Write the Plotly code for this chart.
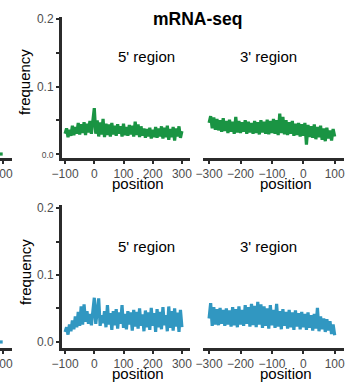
import plotly.graph_objects as go

W, H = 361, 385

pos5 = list(range(-100, 301, 5))
pos3 = list(range(-300, 101, 5))

green5 = [0.030, 0.038, 0.025, 0.036, 0.027, 0.042, 0.028, 0.040, 0.030, 0.046,
          0.029, 0.044, 0.031, 0.047, 0.028, 0.045, 0.032, 0.049, 0.030, 0.052,
          0.068, 0.030, 0.050, 0.026, 0.047, 0.029, 0.052, 0.025, 0.045, 0.028,
          0.044, 0.026, 0.046, 0.029, 0.042, 0.027, 0.044, 0.030, 0.041, 0.026,
          0.045, 0.028, 0.040, 0.027, 0.043, 0.029, 0.042, 0.026, 0.048, 0.028,
          0.044, 0.025, 0.041, 0.027, 0.038, 0.024, 0.037, 0.026, 0.039, 0.023,
          0.036, 0.025, 0.040, 0.024, 0.038, 0.026, 0.041, 0.023, 0.039, 0.025,
          0.042, 0.021, 0.037, 0.025, 0.040, 0.020, 0.038, 0.026, 0.041, 0.024,
          0.034]

green3 = [0.046, 0.056, 0.038, 0.054, 0.036, 0.052, 0.035, 0.050, 0.033, 0.053,
          0.034, 0.049, 0.031, 0.051, 0.033, 0.048, 0.030, 0.055, 0.032, 0.049,
          0.031, 0.047, 0.033, 0.050, 0.030, 0.048, 0.032, 0.046, 0.030, 0.049,
          0.031, 0.047, 0.029, 0.050, 0.032, 0.048, 0.030, 0.051, 0.029, 0.049,
          0.031, 0.052, 0.030, 0.050, 0.028, 0.060, 0.031, 0.055, 0.029, 0.050,
          0.028, 0.047, 0.030, 0.049, 0.027, 0.045, 0.028, 0.046, 0.026, 0.044,
          0.027, 0.046, 0.014, 0.043, 0.025, 0.041, 0.024, 0.044, 0.022, 0.040,
          0.025, 0.042, 0.021, 0.038, 0.019, 0.039, 0.023, 0.035, 0.020, 0.037,
          0.026]

teal5 = [0.015, 0.022, 0.011, 0.026, 0.016, 0.032, 0.019, 0.038, 0.022, 0.045,
         0.024, 0.053, 0.026, 0.056, 0.030, 0.046, 0.027, 0.042, 0.025, 0.048,
         0.066, 0.027, 0.052, 0.065, 0.024, 0.040, 0.028, 0.046, 0.022, 0.055,
         0.026, 0.043, 0.018, 0.046, 0.025, 0.049, 0.020, 0.044, 0.027, 0.055,
         0.021, 0.042, 0.019, 0.046, 0.026, 0.044, 0.017, 0.048, 0.023, 0.045,
         0.020, 0.050, 0.024, 0.041, 0.016, 0.047, 0.022, 0.044, 0.018, 0.051,
         0.024, 0.043, 0.015, 0.049, 0.022, 0.045, 0.019, 0.052, 0.025, 0.040,
         0.016, 0.053, 0.021, 0.046, 0.017, 0.050, 0.023, 0.044, 0.015, 0.048,
         0.022]

teal3 = [0.035, 0.058, 0.024, 0.052, 0.026, 0.049, 0.025, 0.051, 0.027, 0.048,
         0.024, 0.050, 0.026, 0.047, 0.023, 0.052, 0.025, 0.049, 0.022, 0.053,
         0.026, 0.048, 0.024, 0.055, 0.027, 0.052, 0.023, 0.057, 0.025, 0.054,
         0.022, 0.060, 0.026, 0.056, 0.021, 0.053, 0.024, 0.050, 0.020, 0.055,
         0.025, 0.048, 0.021, 0.057, 0.023, 0.046, 0.019, 0.049, 0.024, 0.045,
         0.020, 0.048, 0.022, 0.044, 0.018, 0.047, 0.023, 0.043, 0.019, 0.045,
         0.022, 0.042, 0.018, 0.044, 0.021, 0.040, 0.017, 0.042, 0.020, 0.051,
         0.016, 0.038, 0.019, 0.035, 0.015, 0.034, 0.017, 0.031, 0.012, 0.026,
         0.010]

# tail of the neighbouring (cropped) panel on the left
edge_x = [91, 100]
edge_green = [0.0, 0.0]
edge_teal = [0.0, 0.0]

row_titles = ["mRNA-seq"]
region_labels = ["5' region", "3' region"]
x_ticks5 = [-100, 0, 100, 200, 300]
x_ticks3 = [-300, -200, -100, 0, 100]
y_ticks = [0.0, 0.1, 0.2]

GREEN = "#1a9443"
TEAL = "#3197c1"
AX = "#2b2b2b"
TICKC = "#4d4d4d"
FONT = "Liberation Sans, Arial, sans-serif"


def px(x):
    return x / W


def py(y):
    return 1 - y / H


fig = go.Figure()

xdom5 = [px(62), px(190)]
xdom3 = [px(203), px(344)]
xdomE = [0, px(12)]
ydomT = [py(158), py(17)]
ydomB = [py(348), py(205)]

xr5 = [-110.6, 327.7]
xr3 = [-319.4, 129.6]
xrE = [91.4, 129.6]
yrT = [-0.0059, 0.2030]
yrB = [-0.0090, 0.2045]

LW = 3.2

traces = [
    (pos5, green5, GREEN, "x", "y"),
    (pos3, green3, GREEN, "x2", "y2"),
    (pos5, teal5, TEAL, "x3", "y3"),
    (pos3, teal3, TEAL, "x4", "y4"),
    (edge_x, edge_green, GREEN, "x5", "y5"),
    (edge_x, edge_teal, TEAL, "x6", "y6"),
]
for xs, ys, c, xa, ya in traces:
    fig.add_trace(go.Scatter(x=xs, y=ys, mode="lines", xaxis=xa, yaxis=ya,
                             line=dict(color=c, width=LW), showlegend=False,
                             hoverinfo="skip"))

xcommon = dict(showline=True, linewidth=3, linecolor=AX, ticks="outside",
               ticklen=3, tickwidth=2, tickcolor=AX, showgrid=False,
               zeroline=False, tickfont=dict(size=12, color=TICKC, family=FONT),
               automargin=False, fixedrange=True, ticklabeloverflow="allow")
ycommon = dict(showgrid=False, zeroline=False, automargin=False, fixedrange=True)

ytext_top = ['<span style="font-size:8.5px">0.0</span>', "0.1", "0.2"]
ytext_bot = ["0.0", "0.1", "0.2"]


def ymain(dom, rng, texts, anchor):
    return dict(domain=dom, range=rng, anchor=anchor, showline=True,
                linewidth=3, linecolor=AX, ticks="outside", ticklen=3,
                tickwidth=2, tickcolor=AX, tickvals=y_ticks, ticktext=texts,
                tickfont=dict(size=12, color=TICKC, family=FONT),
                minor=dict(dtick=0.05, ticks="outside", ticklen=3,
                           tickwidth=2, tickcolor=AX, showgrid=False),
                **ycommon)


def yhidden(dom, rng, anchor):
    return dict(domain=dom, range=rng, anchor=anchor, showline=False,
                showticklabels=False, ticks="", **ycommon)


fig.update_layout(
    width=W, height=H, autosize=False,
    margin=dict(l=0, r=0, t=0, b=0),
    paper_bgcolor="white", plot_bgcolor="white",
    font=dict(family=FONT, color="black"),
    xaxis=dict(domain=xdom5, range=xr5, anchor="y", tickvals=x_ticks5, **xcommon),
    yaxis=ymain(ydomT, yrT, ytext_top, "x"),
    xaxis2=dict(domain=xdom3, range=xr3, anchor="y2", tickvals=x_ticks3, **xcommon),
    yaxis2=yhidden(ydomT, yrT, "x2"),
    xaxis3=dict(domain=xdom5, range=xr5, anchor="y3", tickvals=x_ticks5, **xcommon),
    yaxis3=ymain(ydomB, yrB, ytext_bot, "x3"),
    xaxis4=dict(domain=xdom3, range=xr3, anchor="y4", tickvals=x_ticks3, **xcommon),
    yaxis4=yhidden(ydomB, yrB, "x4"),
    xaxis5=dict(domain=xdomE, range=xrE, anchor="y5", tickvals=[100], **xcommon),
    yaxis5=yhidden(ydomT, yrT, "x5"),
    xaxis6=dict(domain=xdomE, range=xrE, anchor="y6", tickvals=[100], **xcommon),
    yaxis6=yhidden(ydomB, yrB, "x6"),
)

ann = []


def text(t, x, y, size, angle=0, bold=False):
    ann.append(dict(text=("<b>%s</b>" % t) if bold else t, x=px(x), y=py(y),
                    xref="paper", yref="paper", showarrow=False,
                    xanchor="center", yanchor="middle", textangle=angle,
                    font=dict(size=size, color="black", family=FONT)))


text(row_titles[0], 197, 19, 17.5, bold=True)
for yy in (56, 246):
    text(region_labels[0], 146, yy, 15)
    text(region_labels[1], 268, yy, 15)
for yy in (82, 272):
    text("frequency", 25, yy, 15, angle=-90)
for yy in (184, 373):
    text("position", 138, yy, 15)
    text("position", 286, yy, 15)

fig.update_layout(annotations=ann)

fig.write_html("out.html", config={"displayModeBar": False},
               post_script="document.body.style.margin='0';document.body.style.padding='0';")
